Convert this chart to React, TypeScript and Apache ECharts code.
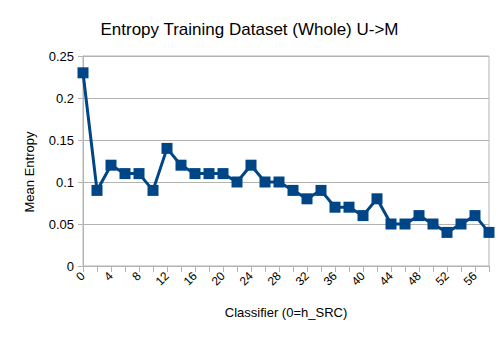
import React, { useEffect, useRef } from "react";
import * as echarts from "echarts";

const categories: string[] = [
  "0","2","4","6","8","10","12","14","16","18","20","22","24","26","28",
  "30","32","34","36","38","40","42","44","46","48","50","52","54","56","58",
];
const meanEntropy: number[] = [
  0.23, 0.09, 0.12, 0.11, 0.11, 0.09, 0.14, 0.12, 0.11, 0.11, 0.11, 0.10, 0.12, 0.10, 0.10,
  0.09, 0.08, 0.09, 0.07, 0.07, 0.06, 0.08, 0.05, 0.05, 0.06, 0.05, 0.04, 0.05, 0.06, 0.04,
];
const titleText = "Entropy Training Dataset (Whole) U->M";
const xName = "Classifier (0=h_SRC)";
const yName = "Mean Entropy";

export default function App() {
  const ref = useRef<HTMLDivElement>(null);
  useEffect(() => {
    if (!ref.current) return;
    const chart = echarts.init(ref.current, null, { renderer: "svg" });
    const font = "'Liberation Sans', Arial, sans-serif";
    chart.setOption({
      animation: false,
      backgroundColor: "#ffffff",
      textStyle: { fontFamily: font },
      title: {
        text: titleText,
        left: "center",
        top: 16,
        textStyle: { fontFamily: font, fontSize: 17, fontWeight: "normal", color: "#000" },
      },
      graphic: [
        {
          type: "text",
          x: 29,
          y: 172,
          rotation: Math.PI / 2,
          style: {
            text: yName,
            fontFamily: font,
            fontSize: 13,
            fill: "#000",
            align: "center",
            verticalAlign: "middle",
          },
        },
      ],
      grid: {
        left: 83,
        right: 10,
        top: 56,
        bottom: 74,
        show: true,
        borderColor: "#b3b3b3",
        borderWidth: 1,
      },
      xAxis: {
        type: "category",
        data: categories,
        boundaryGap: false,
        name: xName,
        nameLocation: "middle",
        nameGap: 40,
        nameTextStyle: { fontFamily: font, fontSize: 13, color: "#000" },
        axisLine: { lineStyle: { color: "#b3b3b3" } },
        axisTick: { show: true, interval: 0, length: 6, lineStyle: { color: "#b3b3b3" } },
        axisLabel: { interval: 1, rotate: 45, fontFamily: font, fontSize: 12, color: "#000", margin: 8 },
        splitLine: { show: false },
      },
      yAxis: {
        type: "value",
        min: 0,
        max: 0.25,
        interval: 0.05,
        axisLine: { show: true, lineStyle: { color: "#b3b3b3" } },
        axisTick: { show: true, length: 5, lineStyle: { color: "#b3b3b3" } },
        axisLabel: {
          fontFamily: font,
          fontSize: 13,
          color: "#000",
          margin: 9,
          formatter: (v: number) => String(parseFloat(v.toFixed(2))),
        },
        splitLine: { show: true, lineStyle: { color: "#b3b3b3", width: 1 } },
      },
      series: [
        {
          type: "line",
          data: meanEntropy,
          symbol: "rect",
          symbolSize: 11,
          showAllSymbol: true,
          lineStyle: { color: "#004586", width: 3 },
          itemStyle: { color: "#004586" },
        },
      ],
    });
    return () => chart.dispose();
  }, []);
  return <div ref={ref} style={{ width: 499, height: 340, position: "absolute", left: 0, top: 0 }} />;
}
